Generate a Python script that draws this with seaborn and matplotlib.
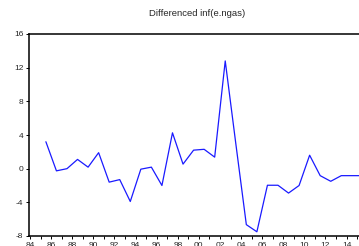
import numpy as np
import pandas as pd
import matplotlib
matplotlib.use('Agg')
import matplotlib.pyplot as plt
from matplotlib.ticker import MultipleLocator, FixedLocator
import seaborn as sns

sns.set_style('ticks')
plt.rcParams['font.family'] = ['Liberation Sans', 'DejaVu Sans']
plt.rcParams['axes.unicode_minus'] = False

# annual data, plotted at mid-year
years = list(range(1985, 2016))
values = [3.2, -0.26, 0.0, 1.1, 0.18, 1.9, -1.6, -1.3, -3.9, -0.06,
          0.18, -2.0, 4.26, 0.54, 2.2, 2.3, 1.37, 12.8, 3.0, -6.65,
          -7.5, -1.97, -1.97, -2.9, -2.0, 1.6, -0.83, -1.5, -0.83, -0.83,
          -0.83]
xtick_years = list(range(1984, 2016, 2))
xtick_labels = ['%02d' % (y % 100) for y in xtick_years]
ytick_vals = [-8, -4, 0, 4, 8, 12, 16]

df = pd.DataFrame({'year': np.array(years) + 0.5, 'val': values})

fig = plt.figure(figsize=(3.59, 2.46), dpi=100)
ax = fig.add_axes([29 / 359, 10 / 246, 330 / 359, 202 / 246])
sns.lineplot(x='year', y='val', data=df, ax=ax, color='#1a1aff', linewidth=0.9)

ax.set_xlim(1983.9, 1983.9 + 330 / 10.55)
ax.set_ylim(-8, 16)
ax.xaxis.set_major_locator(FixedLocator(xtick_years))
ax.set_xticklabels(xtick_labels)
ax.xaxis.set_minor_locator(MultipleLocator(1))
ax.set_yticks(ytick_vals)
ax.set_yticklabels([str(v) for v in ytick_vals])
ax.tick_params(axis='both', which='major', labelsize=6, length=2.5, width=0.7, pad=1.5, color='black')
ax.tick_params(axis='x', which='minor', length=2, width=0.7, color='black')
ax.set_xlabel('')
ax.set_ylabel('')

for s in ['left', 'bottom', 'top']:
    ax.spines[s].set_visible(True)
    ax.spines[s].set_linewidth(1.1)
    ax.spines[s].set_color('black')
ax.spines['right'].set_visible(False)

fig.text(197 / 359, 1 - 14 / 246, 'Differenced inf(e.ngas)', ha='center', va='center', fontsize=6.8)

plt.savefig('out.png', dpi=100)
plt.close('all')
